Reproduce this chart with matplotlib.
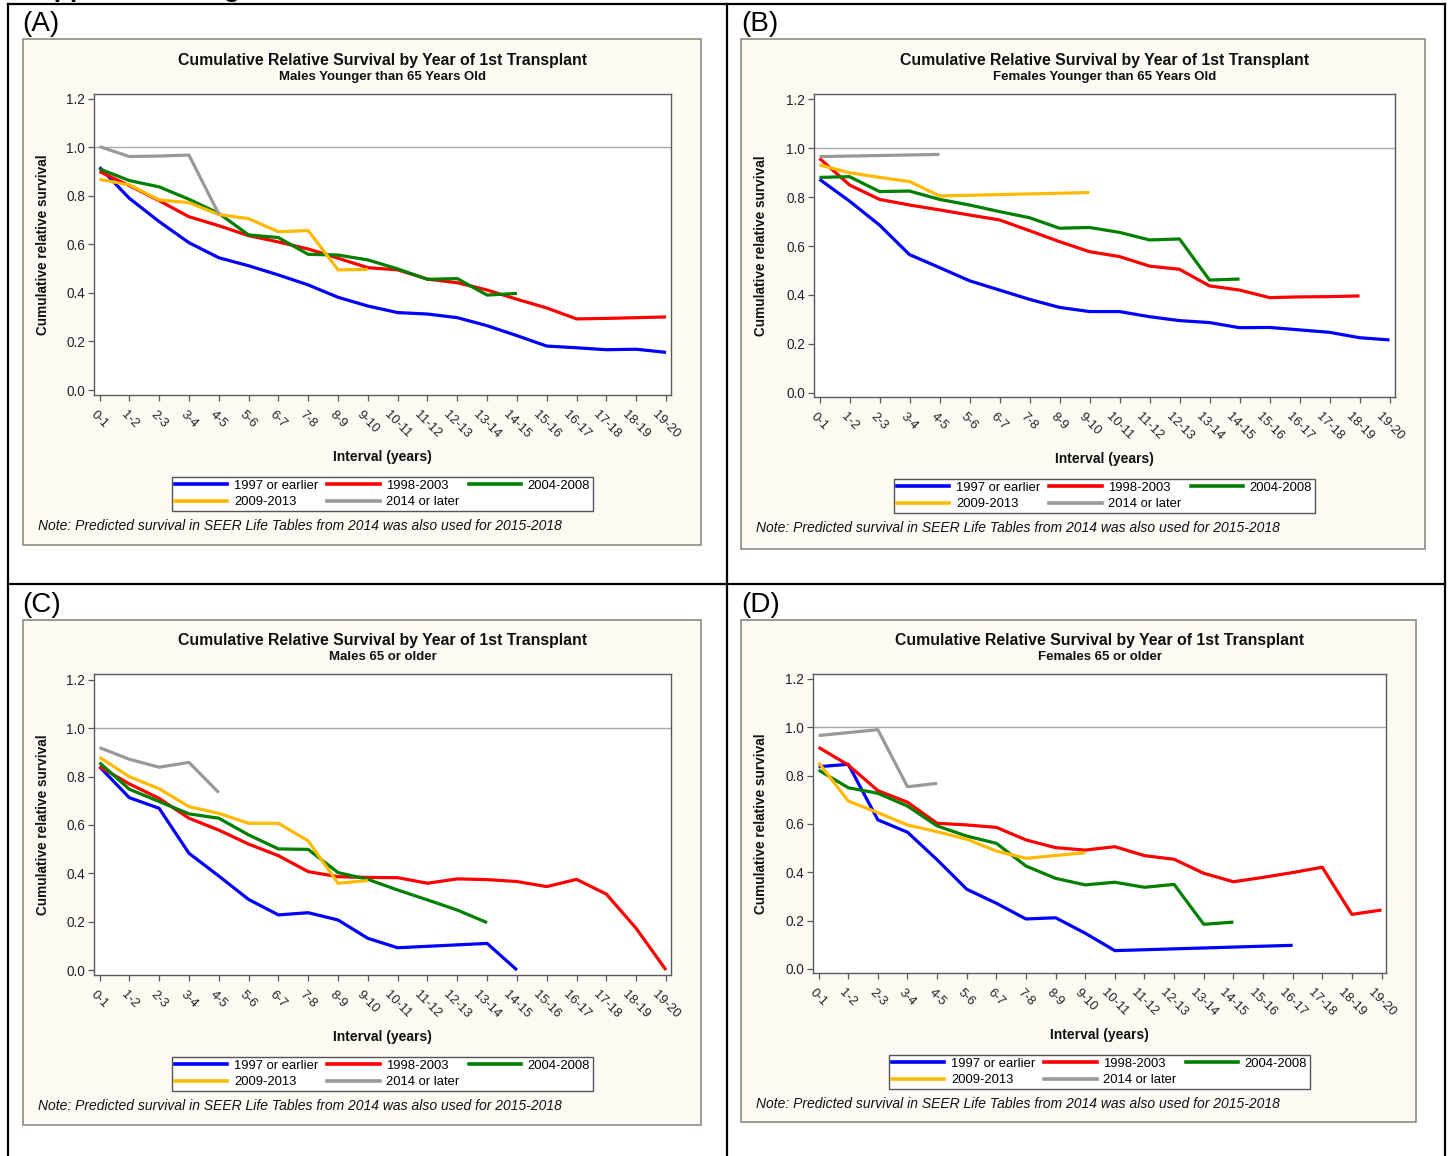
"""
Cumulative relative survival by year of 1st transplant (four panels)
"""
import numpy as np
import matplotlib
matplotlib.use("Agg")
import matplotlib.pyplot as plt
from matplotlib import font_manager
from matplotlib.patches import Rectangle
from matplotlib.lines import Line2D

W, H = 1448, 1156

INTERVALS = ["0-1", "1-2", "2-3", "3-4", "4-5", "5-6", "6-7", "7-8", "8-9", "9-10",
             "10-11", "11-12", "12-13", "13-14", "14-15", "15-16", "16-17", "17-18",
             "18-19", "19-20"]
SERIES = ["1997 or earlier", "1998-2003", "2004-2008", "2009-2013", "2014 or later"]
COLORS = ["#0000FF", "#FF0000", "#007F00", "#FFB900", "#999999"]
SUBTITLES = ["Males Younger than 65 Years Old", "Females Younger than 65 Years Old",
             "Males 65 or older", "Females 65 or older"]
TITLE = "Cumulative Relative Survival by Year of 1st Transplant"
NOTE = "Note: Predicted survival in SEER Life Tables from 2014 was also used for 2015-2018"

# (A) males < 65
a_1997 = [0.918, 0.790, 0.694, 0.607, 0.545, 0.512, 0.474, 0.433, 0.382, 0.346,
          0.319, 0.313, 0.298, 0.265, 0.224, 0.181, 0.174, 0.166, 0.168, 0.155]
a_1998 = [0.900, 0.842, 0.780, 0.714, 0.677, 0.636, 0.610, 0.581, 0.543, 0.504,
          0.495, 0.457, 0.442, 0.412, 0.374, 0.338, 0.293, 0.295, 0.298, 0.301]
a_2004 = [0.911, 0.863, 0.837, 0.786, 0.728, 0.639, 0.628, 0.559, 0.556, 0.536,
          0.499, 0.456, 0.459, 0.391, 0.398]
a_2009 = [0.868, 0.845, 0.783, 0.772, 0.723, 0.706, 0.652, 0.657, 0.495, 0.497]
a_2014 = [1.003, 0.962, 0.964, 0.968, 0.725]

# (B) females < 65
b_1997 = [0.873, 0.784, 0.686, 0.565, 0.512, 0.458, 0.420, 0.382, 0.349, 0.332,
          0.332, 0.311, 0.295, 0.287, 0.266, 0.267, 0.257, 0.247, 0.225, 0.216]
b_1998 = [0.959, 0.850, 0.791, 0.768, 0.748, 0.727, 0.707, 0.663, 0.618, 0.577,
          0.557, 0.518, 0.505, 0.437, 0.420, 0.389, 0.392, 0.393, 0.396]
b_2004 = [0.881, 0.884, 0.823, 0.825, 0.791, 0.768, 0.741, 0.716, 0.673, 0.676,
          0.656, 0.625, 0.629, 0.461, 0.465]
b_2009 = [0.932, 0.900, 0.881, 0.864, 0.805, None, None, None, None, 0.819]
b_2014 = [0.966, None, None, None, 0.975]

# (C) males 65+
c_1997 = [0.841, 0.713, 0.669, 0.483, 0.389, 0.292, 0.228, 0.237, 0.207, 0.131,
          0.092, None, None, 0.110, 0.000]
c_1998 = [0.841, 0.770, 0.710, 0.628, 0.579, 0.521, 0.473, 0.407, 0.386, 0.383,
          0.382, 0.359, 0.377, 0.374, 0.366, 0.345, 0.375, 0.314, 0.172, 0.000]
c_2004 = [0.858, 0.748, 0.697, 0.646, 0.628, 0.559, 0.501, 0.499, 0.403, 0.375,
          0.331, 0.290, 0.248, 0.196]
c_2009 = [0.880, 0.800, 0.750, 0.676, 0.648, 0.607, 0.607, 0.534, 0.359, 0.370]
c_2014 = [0.920, 0.872, 0.839, 0.859, 0.734]

# (D) females 65+
d_1997 = [0.837, 0.847, 0.617, 0.566, 0.452, 0.330, 0.272, 0.207, 0.212, 0.148,
          0.076, None, None, None, None, None, 0.098]
d_1998 = [0.917, 0.844, 0.738, 0.690, 0.603, 0.596, 0.586, 0.534, 0.502, 0.492,
          0.506, 0.469, 0.454, 0.396, 0.361, 0.379, 0.399, 0.421, 0.226, 0.244]
d_2004 = [0.823, 0.750, 0.727, 0.674, 0.592, 0.550, 0.520, 0.426, 0.375, 0.348,
          0.359, 0.338, 0.350, 0.185, 0.194]
d_2009 = [0.854, 0.695, 0.647, 0.596, 0.568, 0.537, 0.488, 0.458, None, 0.481]
d_2014 = [0.966, None, 0.990, 0.754, 0.768]

_names = {f.name for f in font_manager.fontManager.ttflist}
NARROW = "Liberation Sans Narrow" if "Liberation Sans Narrow" in _names else "Liberation Sans"
WIDE = "Liberation Sans"

PANEL_BG = "#FCFAF3"
PANEL_EDGE = "#8E8B80"
BOX_EDGE = "#5A5A5A"


def fx(px):
    return px / W


def fy(py):
    return 1 - py / H


def draw_panel(fig, tag, subtitle, series, frame, box, xt, yt, tag_xy):
    # beige background frame, kept under the axes
    fl, ft, fr, fb = frame
    fig.patches.append(Rectangle((fx(fl), fy(fb)), (fr - fl) / W, (fb - ft) / H,
                                 transform=fig.transFigure, facecolor=PANEL_BG,
                                 edgecolor=PANEL_EDGE, linewidth=1.2, zorder=-5))
    fig.text(fx(tag_xy[0]), fy(tag_xy[1]), tag, fontsize=20, family=WIDE,
             ha="left", va="center")

    bl, bt, br, bb = box
    ax = fig.add_axes([fx(bl), fy(bb), (br - bl) / W, (bb - bt) / H])
    ax.set_zorder(2)
    ax.set_facecolor("white")

    # axis limits from pixel geometry
    xs = (xt[1] - xt[0]) / 19
    ax.set_xlim((bl - xt[0]) / xs, 19 + (br - xt[1]) / xs)
    ys = yt[0] - yt[1]
    ax.set_ylim((yt[0] - bb) / ys, (yt[0] - bt) / ys)

    ax.axhline(1.0, color="#A8A8A8", lw=1.0, zorder=1)
    for vals, color in zip(series, COLORS):
        y = np.array(vals, dtype=float)
        x = np.arange(len(y))
        ok = ~np.isnan(y)
        ax.plot(x[ok], y[ok], color=color, lw=2.3, solid_joinstyle="round",
                solid_capstyle="butt", zorder=3)

    ax.set_xticks(range(len(INTERVALS)))
    ax.set_xticklabels(INTERVALS, rotation=-45, ha="center", va="top",
                       family=NARROW, fontsize=9.3)
    ax.set_yticks(np.arange(0, 1.21, 0.2))
    ax.set_yticklabels([f"{v:.1f}" for v in np.arange(0, 1.21, 0.2)],
                       family=NARROW, fontsize=9.8)
    ax.tick_params(axis="both", direction="out", length=4.5, width=0.9,
                   color=BOX_EDGE, labelcolor="#222222")
    ax.tick_params(axis="x", pad=5)
    ax.tick_params(axis="y", pad=2)
    for sp in ax.spines.values():
        sp.set_color(BOX_EDGE)
        sp.set_linewidth(1.0)

    cx = (bl + br) / 2
    fig.text(fx(cx), fy(bt - 34), TITLE, family=NARROW, fontweight="bold",
             fontsize=11.4, ha="center", va="center", color="#111111")
    fig.text(fx(cx), fy(bt - 17), subtitle, family=NARROW, fontweight="bold",
             fontsize=9.5, ha="center", va="center", color="#111111")
    fig.text(fx(cx), fy(bb + 62), "Interval (years)", family=NARROW,
             fontweight="bold", fontsize=10, ha="center", va="center", color="#111111")
    fig.text(fx(fl + 20), fy((bt + bb) / 2), "Cumulative relative survival",
             family=WIDE, fontweight="bold", fontsize=9.8, rotation=90,
             ha="center", va="center", color="#111111")
    fig.text(fx(fl + 15), fy(bb + 131), NOTE, family=NARROW, style="italic",
             fontsize=10, ha="left", va="center", color="#111111")

    # legend filled row by row: 3 columns, 2 rows
    handles = [Line2D([], [], color=c, lw=2.6) for c in COLORS]
    order = [0, 3, 1, 4, 2]
    leg = fig.legend([handles[i] for i in order], [SERIES[i] for i in order],
                     loc="center", bbox_to_anchor=(fx(cx), fy(bb + 99)),
                     bbox_transform=fig.transFigure, ncol=3, frameon=True,
                     fancybox=False, edgecolor="#555555", framealpha=1,
                     prop={"family": NARROW, "size": 9.4}, handlelength=4.0,
                     handletextpad=0.5, columnspacing=0.7, labelspacing=0.3,
                     borderpad=0.25, borderaxespad=0)
    leg.get_frame().set_linewidth(1.0)
    leg.set_zorder(3)
    return ax


def main():
    fig = plt.figure(figsize=(W / 100, H / 100), dpi=100)
    fig.patch.set_facecolor("white")

    # heading mostly cut off at the top edge of the page
    fig.text(fx(20), fy(-2.5), "Supplemental Figure", family=WIDE,
             fontweight="bold", fontsize=19, ha="left", va="baseline")

    # table grid
    grid = [((7.5, 7.5), (3.5, H)), ((1444.5, 1444.5), (3.5, H)),
            ((727, 727), (3.5, H)), ((7.5, 1444.5), (3.5, 3.5)),
            ((7.5, 1444.5), (584.5, 584.5))]
    for xs, ys in grid:
        fig.add_artist(Line2D([fx(v) for v in xs], [fy(v) for v in ys],
                              transform=fig.transFigure, color="black", lw=1.6))

    panels = [
        ("(A)", SUBTITLES[0], [a_1997, a_1998, a_2004, a_2009, a_2014],
         (23, 39, 701, 545), (94, 94, 671, 395), (99.5, 666), (390, 147.3), (22, 24)),
        ("(B)", SUBTITLES[1], [b_1997, b_1998, b_2004, b_2009, b_2014],
         (741, 39, 1425, 549), (814, 94, 1395, 397), (819.5, 1389.5), (392.7, 148.3), (741, 24)),
        ("(C)", SUBTITLES[2], [c_1997, c_1998, c_2004, c_2009, c_2014],
         (23, 620, 701, 1125), (94, 674, 671, 975), (99.5, 666), (970, 728.3), (22, 605)),
        ("(D)", SUBTITLES[3], [d_1997, d_1998, d_2004, d_2009, d_2014],
         (741, 620, 1416, 1122), (813, 674, 1386, 973), (818.6, 1381.5), (969, 727.3), (741, 605)),
    ]
    for p in panels:
        draw_panel(fig, *p)

    fig.savefig("out.png", dpi=100)
    plt.close(fig)


if __name__ == "__main__":
    main()
